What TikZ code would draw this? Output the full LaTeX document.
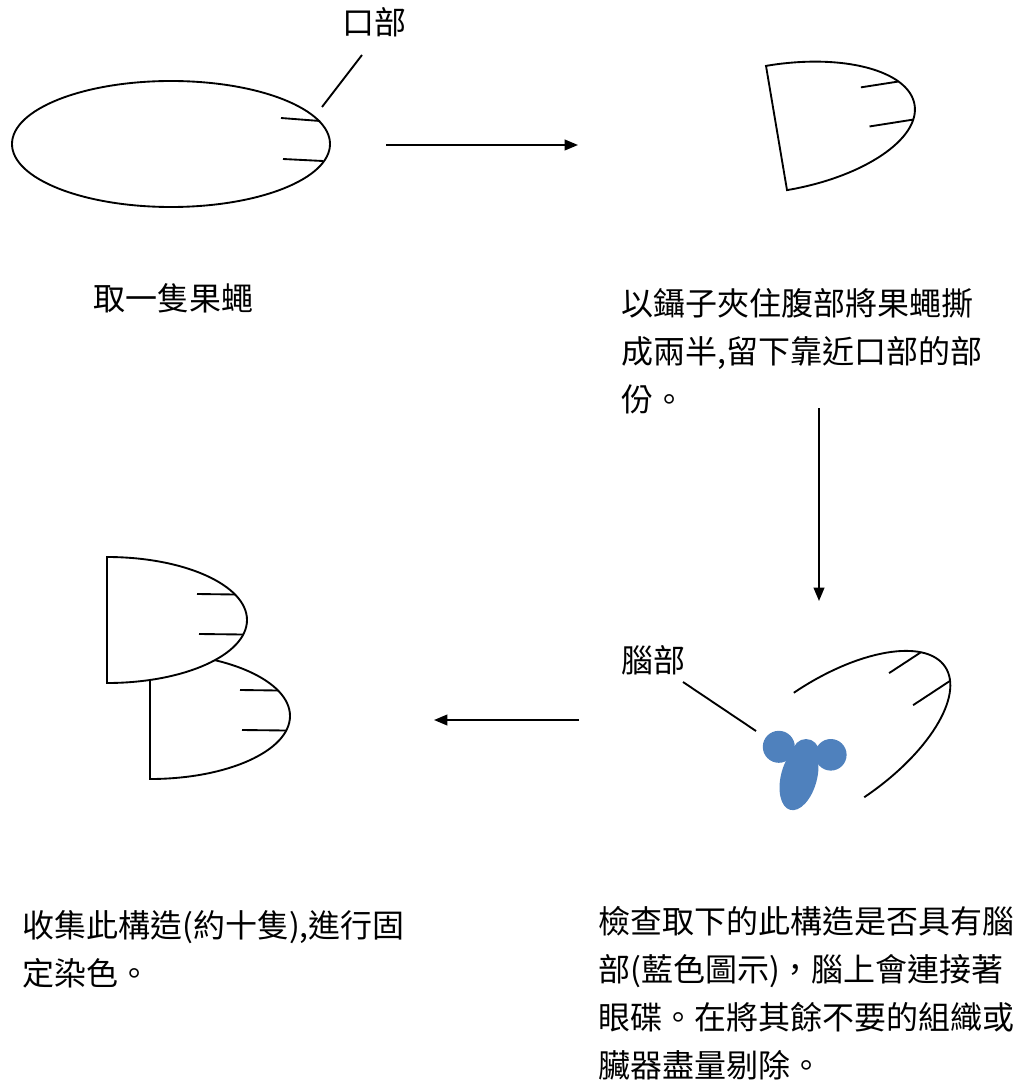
\documentclass[tikz,border=0pt]{standalone}
\usepackage{fontspec}
\setmainfont{Noto Sans CJK TC}
\usetikzlibrary{arrows.meta,shapes.geometric}

\definecolor{brainblue}{RGB}{79,129,189}

\begin{document}
\begin{tikzpicture}[x=0.75pt,y=-0.75pt,
  outline/.style={line width=1.4pt},
  flow/.style={line width=1.4pt,-{Triangle[length=10pt,width=8pt]}},
  caption/.style={inner sep=0pt,font=\fontsize{24}{36}\selectfont,align=left},
  % half of a fly: the head end of an ellipse cut off by a straight edge
  halffly/.pic={
    \draw[outline,fill=white] (0,-63) arc[start angle=-90,end angle=90,x radius=140,y radius=63] -- cycle;
    \draw[outline] (90,-26) -- (128,-25.5);
    \draw[outline] (92,14) -- (136,14.5);
  },
  % the same part after cleaning, with the cut edge open
  openfly/.pic={
    \draw[outline] (0,-63) arc[start angle=-90,end angle=90,x radius=140,y radius=63];
    \draw[outline] (90,-26) -- (128,-25.5);
    \draw[outline] (92,14) -- (136,14.5);
  }]
\useasboundingbox (0,0) rectangle (1019,1080);

% step 1: whole fly
\node (fly) [draw,outline,ellipse,minimum width=238.5pt,minimum height=94.5pt,inner sep=0pt] at (171,144) {};
\draw[outline] (281,118) -- (320,121);
\draw[outline] (283,159) -- (323,161);
\node (mouth) [caption,anchor=west] at (342,22) {口部};
\coordinate (mouthtop) at (362,55);
\coordinate (mouthend) at (322,107);
\draw[outline] (mouthtop) -- (mouthend);
\node (takefly) [caption,anchor=west] at (93,298) {取一隻果蠅};

% step 2: torn half
\pic at (776.5,128) [rotate=9.6] {halffly};
\node (tear) [caption,anchor=north west] at (621,288) {以鑷子夾住腹部將果蠅撕\\成兩半,留下靠近口部的部\\份。};

% step 3: head part with brain
\pic at (829,745) [rotate=34] {openfly};
\fill[brainblue] (778.8,746.8) circle[radius=16];
\fill[brainblue] (830.8,754.8) circle[radius=15.8];
\fill[brainblue] (806,752) circle[radius=13];
\fill[brainblue] (799,777) ellipse[x radius=18,y radius=34,rotate=-15];
\node (brain) [caption,anchor=west] at (621,660) {腦部};
\coordinate (braintip) at (756,731);
\coordinate (brainfrom) at (683,682);
\draw[outline] (brainfrom) -- (braintip);
\node (check) [caption,anchor=north west] at (598,906) {檢查取下的此構造是否具有腦\\部(藍色圖示)，腦上會連接著\\眼碟。在將其餘不要的組織或\\臟器盡量剔除。};

% step 4: collected parts
\pic at (150,716) {halffly};
\pic at (107,620) {halffly};
\node (collect) [caption,anchor=north west] at (22,910) {收集此構造(約十隻),進行固\\定染色。};

% arrows between the steps
\coordinate (a1s) at (386,145);
\coordinate (a1e) at (578,145);
\coordinate (a2s) at (819,408);
\coordinate (a2e) at (819,601);
\coordinate (a3s) at (579,720);
\coordinate (a3e) at (434,720);
\draw[flow] (a1s) -- (a1e);
\draw[flow] (a2s) -- (a2e);
\draw[flow] (a3s) -- (a3e);
\end{tikzpicture}
\end{document}
